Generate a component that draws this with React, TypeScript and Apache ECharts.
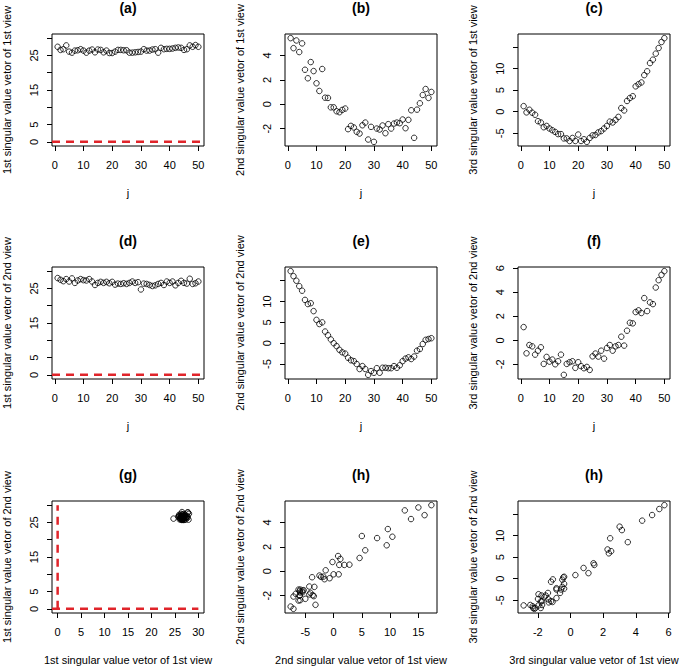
import React, { useEffect, useRef } from "react";
import * as echarts from "echarts";

const j = Array.from({ length: 50 }, (_, i) => i + 1);

// 1st singular vector, 1st view
const a = [27.5,26.6,26.8,27.9,26.1,25.8,26.4,26.5,26.8,26.4,25.8,26.4,26.7,25.9,26.7,26.6,25.9,26.4,25.7,25.7,26.1,26.6,26.6,26.5,26.5,25.8,25.8,25.9,26.0,26.1,26.8,26.4,26.4,26.7,26.8,25.8,27.2,26.8,26.9,26.9,27.0,27.2,27.3,27.2,26.6,26.8,27.9,27.5,28.0,27.5];
// 2nd singular vector, 1st view
const b = [5.42,4.6,5.23,4.28,4.99,2.83,2.13,3.46,2.72,1.72,1.09,2.89,0.54,0.52,-0.25,-0.25,-0.57,-0.65,-0.46,-0.35,-2.04,-1.77,-1.9,-2.26,-2.4,-1.72,-1.5,-2.89,-1.85,-3.08,-1.99,-2.07,-1.74,-2.37,-1.63,-1.99,-1.58,-1.5,-1.55,-1.25,-1.96,-1.28,-0.49,-2.75,-0.44,0.08,0.76,1.25,0.52,1.01];
// 3rd singular vector, 1st view
const c = [1.3,-0.15,0.46,-0.23,-0.7,-2.2,-2.5,-3.6,-3.3,-3.9,-4.3,-4.7,-5.2,-5.2,-6.2,-6.2,-6.8,-6.1,-6.8,-5.3,-6.8,-6.4,-7.0,-6.1,-5.5,-5.4,-4.8,-4.5,-3.9,-3.3,-2.3,-2.5,-1.9,-1.2,0.85,0.3,2.5,3.2,3.6,5.9,6.4,6.8,8.5,9.4,11.3,12.1,13.5,14.8,16.2,17.1];
// 1st singular vector, 2nd view
const d = [28.0,27.5,27.1,27.7,27.0,27.9,26.6,27.3,27.7,27.4,27.3,27.7,27.0,26.0,26.6,26.9,26.6,26.9,26.5,26.9,26.1,26.4,26.3,26.5,26.3,26.6,27.0,26.6,26.8,24.7,26.4,26.3,26.0,25.7,25.9,26.3,26.6,26.0,27.0,26.6,27.0,25.9,26.6,27.2,26.6,26.4,27.8,26.3,26.5,27.0];
// 2nd singular vector, 2nd view
const e = [17.3,16.1,15.0,13.7,12.6,10.4,9.4,9.6,7.7,5.6,4.6,5.0,2.8,1.9,0.9,0,-0.7,-1.6,-2.2,-2.5,-3.5,-4.1,-4.3,-5.0,-6.2,-5.5,-6.2,-7.6,-6.7,-7.1,-6.0,-7.1,-5.9,-5.9,-6.0,-6.0,-5.5,-5.9,-5.3,-4.3,-3.7,-3.4,-3.8,-3.2,-1.8,-1.4,-0.2,0.8,1.0,1.2];
// 3rd singular vector, 2nd view
const f = [1.1,-1.08,-0.39,-0.5,-1.19,-0.86,-0.58,-1.96,-1.38,-1.77,-1.6,-1.99,-1.74,-1.19,-2.87,-1.96,-1.82,-1.74,-2.29,-1.82,-2.15,-2.32,-2.21,-2.46,-1.33,-1.1,-1.35,-0.86,-1.52,-0.64,-0.39,-0.86,-0.5,-0.39,0.3,-0.44,0.8,1.46,1.41,2.35,2.49,2.27,3.51,2.43,3.15,3.01,4.39,5.0,5.44,5.75];

const titles = ["(a)", "(b)", "(c)", "(d)", "(e)", "(f)", "(g)", "(h)", "(h)"];
const yNames = [
  "1st singular value vetor of 1st view",
  "2nd singular value vetor of 1st view",
  "3rd singular value vetor of 1st view",
  "1st singular value vetor of 2nd view",
  "2nd singular value vetor of 2nd view",
  "3rd singular value vetor of 2nd view",
  "1st singular value vetor of 2nd view",
  "2nd singular value vetor of 2nd view",
  "3rd singular value vetor of 2nd view",
];
const xNames = [
  "j", "j", "j", "j", "j", "j",
  "1st singular value vetor of 1st view",
  "2nd singular value vetor of 1st view",
  "3rd singular value vetor of 1st view",
];

const jTicks = [0, 10, 20, 30, 40, 50];
const t0to30 = [0, 5, 10, 15, 20, 25, 30];
const t0to30Labels = [0, 5, 15, 25];
const tB = [-2, 0, 2, 4];
const tC = [-5, 0, 5, 10, 15];
const tCLabels = [-5, 0, 5, 10];
const tF = [-2, 0, 2, 4, 6];
const tE = [-5, 0, 5, 10, 15];

const FONT = "'Liberation Sans', Arial, Helvetica, sans-serif";
const RED = "#E0242A";

function rng(vals: number[]): [number, number] {
  const lo = Math.min(...vals);
  const hi = Math.max(...vals);
  const ext = (hi - lo) * 0.04;
  return [lo - ext, hi + ext];
}

export default function App() {
  const ref = useRef<HTMLDivElement>(null);
  useEffect(() => {
    if (!ref.current) return;
    const chart = echarts.init(ref.current, undefined, { renderer: "svg" });

    const lefts = [52, 285, 518];
    const tops = [34, 267, 501];
    const W = 152;
    const H = 112;

    const jr = rng(j);
    const lim30 = rng([0, 30]);

    type P = {
      x: number[];
      y: number[];
      xlim: [number, number];
      ylim: [number, number];
      xt: number[];
      xl: number[];
      yt: number[];
      yl: number[];
      red?: number[][][];
    };
    const panels: P[] = [
      { x: j, y: a, xlim: jr, ylim: lim30, xt: jTicks, xl: jTicks, yt: t0to30, yl: t0to30Labels, red: [[[jr[0], 0], [jr[1], 0]]] },
      { x: j, y: b, xlim: jr, ylim: rng(b), xt: jTicks, xl: jTicks, yt: tB, yl: tB },
      { x: j, y: c, xlim: jr, ylim: rng(c), xt: jTicks, xl: jTicks, yt: tC, yl: tCLabels },
      { x: j, y: d, xlim: jr, ylim: lim30, xt: jTicks, xl: jTicks, yt: t0to30, yl: t0to30Labels, red: [[[jr[0], 0], [jr[1], 0]]] },
      { x: j, y: e, xlim: jr, ylim: rng(e), xt: jTicks, xl: jTicks, yt: tE, yl: tCLabels },
      { x: j, y: f, xlim: jr, ylim: rng(f), xt: jTicks, xl: jTicks, yt: tF, yl: tF },
      { x: d, y: a, xlim: lim30, ylim: lim30, xt: t0to30, xl: t0to30, yt: t0to30, yl: t0to30Labels, red: [[[lim30[0], 0], [30, 0]], [[0, 0], [0, 30]]] },
      { x: e, y: b, xlim: rng(e), ylim: rng(b), xt: [-5, 0, 5, 10, 15], xl: [-5, 0, 5, 10, 15], yt: tB, yl: tB },
      { x: f, y: c, xlim: rng(f), ylim: rng(c), xt: tF, xl: tF, yt: tC, yl: tCLabels },
    ];

    const grid: any[] = [];
    const xAxis: any[] = [];
    const yAxis: any[] = [];
    const series: any[] = [];
    const graphic: any[] = [];

    panels.forEach((p, i) => {
      const left = lefts[i % 3];
      const top = tops[Math.floor(i / 3)];
      grid.push({ left, top, width: W, height: H, show: true, borderColor: "#000", borderWidth: 1, backgroundColor: "transparent" });
      const common = {
        gridIndex: i,
        type: "value",
        axisLine: { show: false, onZero: false },
        splitLine: { show: false },
      };
      xAxis.push({
        ...common,
        position: "bottom",
        min: p.xlim[0],
        max: p.xlim[1],
        axisTick: { show: true, inside: false, length: 5, lineStyle: { color: "#000", width: 1 }, customValues: p.xt },
        axisLabel: { show: true, customValues: p.xl, margin: 13, fontSize: 11, color: "#000", fontFamily: FONT },
      });
      yAxis.push({
        ...common,
        position: "left",
        min: p.ylim[0],
        max: p.ylim[1],
        axisTick: { show: true, inside: false, length: 5, lineStyle: { color: "#000", width: 1 }, customValues: p.yt },
        axisLabel: { show: true, customValues: p.yl, margin: 13, rotate: 90, fontSize: 11, color: "#000", fontFamily: FONT },
      });
      series.push({
        type: "scatter",
        xAxisIndex: i,
        yAxisIndex: i,
        symbol: "circle",
        symbolSize: 5.5,
        silent: true,
        itemStyle: { color: "rgba(0,0,0,0)", borderColor: "#000", borderWidth: 1 },
        data: p.x.map((xv, k) => [xv, p.y[k]]),
        z: 3,
      });
      (p.red || []).forEach((seg) => {
        series.push({
          type: "line",
          xAxisIndex: i,
          yAxisIndex: i,
          symbol: "none",
          silent: true,
          data: seg,
          lineStyle: { color: RED, width: 2.5, type: [8, 6] },
          z: 2,
        });
      });
      graphic.push({
        type: "text",
        x: left + W / 2,
        y: top - 26,
        style: { text: titles[i], font: `bold 14px ${FONT}`, fill: "#000", textAlign: "center", textVerticalAlign: "middle" },
      });
      graphic.push({
        type: "text",
        x: left + W / 2,
        y: top + H + 47,
        style: { text: xNames[i], font: `11px ${FONT}`, fill: "#000", textAlign: "center", textVerticalAlign: "middle" },
      });
      graphic.push({
        type: "text",
        x: left - 45,
        y: top + H / 2,
        rotation: Math.PI / 2,
        style: { text: yNames[i], font: `11px ${FONT}`, fill: "#000", textAlign: "center", textVerticalAlign: "middle" },
      });
    });

    chart.setOption({
      animation: false,
      backgroundColor: "#fff",
      grid,
      xAxis,
      yAxis,
      series,
      graphic,
    });
    return () => chart.dispose();
  }, []);
  return <div ref={ref} style={{ position: "fixed", left: 0, top: 0, width: 681, height: 667 }} />;
}
